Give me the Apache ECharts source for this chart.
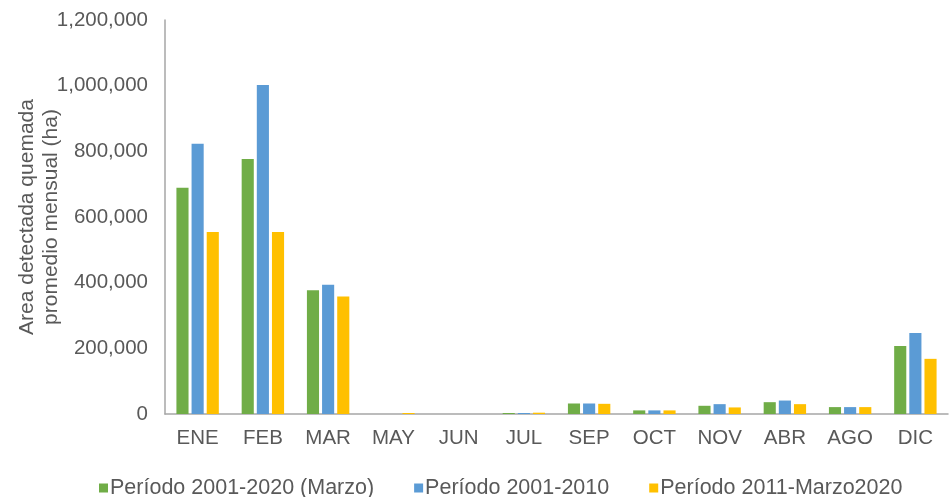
<!DOCTYPE html>
<html>
<head>
<meta charset="utf-8">
<script src="https://cdn.jsdelivr.net/npm/echarts@6/dist/echarts.min.js"></script>
<style>html,body{margin:0;padding:0;background:#fff}#c{width:949px;height:497px}</style>
</head>
<body>
<div id="c"></div>
<script>
const categories = ['ENE','FEB','MAR','MAY','JUN','JUL','SEP','OCT','NOV','ABR','AGO','DIC'];
const seriesNames = ['Período 2001-2020 (Marzo)','Período 2001-2010','Período 2011-Marzo2020'];
const s2001_2020 = [689000, 777000, 377000, 0, 0, 3000, 32000, 11000, 25000, 36000, 21000, 207000];
const s2001_2010 = [823000, 1002000, 394000, 0, 0, 3000, 32000, 11000, 30000, 41000, 21000, 247000];
const s2011_2020 = [554000, 554000, 358000, 3000, 0, 4000, 31000, 11000, 20000, 30000, 21000, 168000];
const yTicks = [0, 200000, 400000, 600000, 800000, 1000000, 1200000];
const colors = ['#70ad47','#5b9bd5','#ffc000'];

const chart = echarts.init(document.getElementById('c'));
const fontFamily = '"Liberation Sans", Arial, sans-serif';
const values = [s2001_2020, s2001_2010, s2011_2020];
chart.setOption({
  animation: false,
  textStyle: {fontFamily: fontFamily},
  grid: {left: 165, right: 1, top: 20, bottom: 83, containLabel: false, outerBoundsMode: 'none'},
  legend: {
    top: 472, left: 94,
    itemWidth: 9, itemHeight: 9, itemGap: 40,
    icon: 'rect',
    textStyle: {fontSize: 21.5, color: '#595959', fontFamily: fontFamily, padding: [0,0,0,-3]},
    data: seriesNames
  },
  xAxis: {
    type: 'category', data: categories,
    axisLine: {lineStyle: {color: '#a6a6a6', width: 1.5}},
    axisTick: {show: false},
    axisLabel: {fontSize: 20.5, color: '#595959', margin: 14}
  },
  yAxis: {
    type: 'value', min: yTicks[0], max: yTicks[yTicks.length-1], interval: yTicks[1]-yTicks[0],
    name: 'Area detectada quemada\npromedio mensual (ha)',
    nameLocation: 'middle', nameGap: 102, nameRotate: 90, nameMoveOverlap: false,
    nameTextStyle: {fontSize: 21, color: '#595959', lineHeight: 24, fontFamily: fontFamily},
    axisLine: {show: true, lineStyle: {color: '#a6a6a6', width: 1.5}},
    axisTick: {show: false},
    splitLine: {show: false},
    axisLabel: {fontSize: 20.5, color: '#595959', margin: 17,
      formatter: v => v.toLocaleString('en-US')}
  },
  series: seriesNames.map((n, i) => ({
    name: n, type: 'bar', data: values[i],
    itemStyle: {color: colors[i]},
    barGap: '25%', barCategoryGap: '35%'
  }))
});
</script>
</body>
</html>
